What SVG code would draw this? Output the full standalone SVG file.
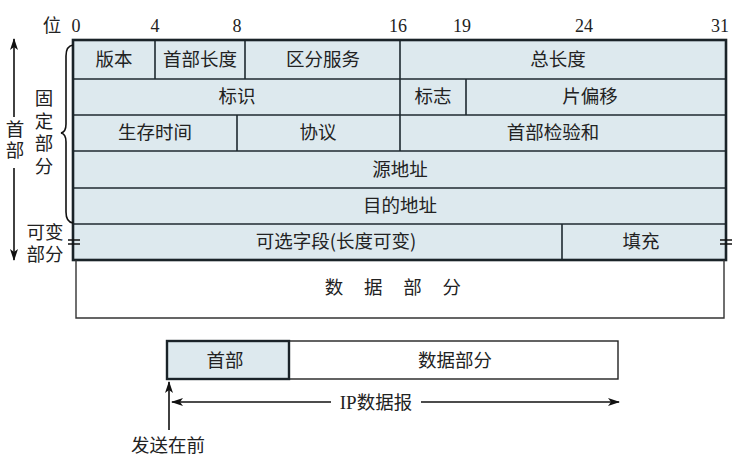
<svg xmlns="http://www.w3.org/2000/svg" width="752" height="459" viewBox="0 0 752 459">
  <defs>
    <style>
      .cjk { font-family: "Noto Sans CJK SC", "Noto Sans", sans-serif; font-size: 18.5px; fill: #222; }
      .num { font-family: "Liberation Serif", "DejaVu Serif", serif; font-size: 18px; fill: #222; }
      .mid { text-anchor: middle; }
      .vert { writing-mode: vertical-rl; text-anchor: middle; }
      .cell { fill: #dde9ee; }
      .grid { stroke: #1f2a30; stroke-width: 1.6; fill: none; }
      .frame { stroke: #1a2328; stroke-width: 2.6; fill: none; }
      .thin { stroke: #333; stroke-width: 1.4; fill: none; }
      .arrow { stroke: #111; stroke-width: 1.6; fill: none; }
    </style>
    <marker id="ah" viewBox="0 0 12 8" refX="11" refY="4" markerWidth="12" markerHeight="8" markerUnits="userSpaceOnUse" orient="auto">
      <path d="M0,0 L12,4 L0,8 L3,4 Z" fill="#111"/>
    </marker>
  </defs>
  <rect width="752" height="459" fill="#ffffff"/>

  <!-- bit position ruler -->
  <g id="ruler">
    <text class="cjk mid" x="52" y="32">位</text>
    <text class="num mid" x="76" y="32">0</text>
    <text class="num mid" x="155" y="32">4</text>
    <text class="num mid" x="237" y="32">8</text>
    <text class="num mid" x="398" y="32">16</text>
    <text class="num mid" x="462" y="32">19</text>
    <text class="num mid" x="584" y="32">24</text>
    <text class="num mid" x="720" y="32">31</text>
  </g>

  <!-- header fields -->
  <g id="header">
    <rect class="cell" x="73" y="40" width="653" height="220"/>
    <!-- row separators -->
    <path class="grid" d="M73,79H726 M73,115H726 M73,151H726 M73,188H726 M73,224H726"/>
    <!-- column separators -->
    <path class="grid" d="M155,40V79 M245,40V79 M400,40V79 M400,79V115 M466,79V115 M237,115V151 M400,115V151 M562,224V260"/>
    <rect class="frame" x="73" y="40" width="653" height="220"/>

    <g id="row1">
      <text class="cjk mid" x="114" y="66">版本</text>
      <text class="cjk mid" x="200" y="66">首部长度</text>
      <text class="cjk mid" x="323" y="66">区分服务</text>
      <text class="cjk mid" x="558" y="66">总长度</text>
    </g>
    <g id="row2">
      <text class="cjk mid" x="237" y="103">标识</text>
      <text class="cjk mid" x="433" y="103">标志</text>
      <text class="cjk mid" x="590" y="103">片偏移</text>
    </g>
    <g id="row3">
      <text class="cjk mid" x="155" y="139">生存时间</text>
      <text class="cjk mid" x="318" y="139">协议</text>
      <text class="cjk mid" x="553" y="139">首部检验和</text>
    </g>
    <g id="row4">
      <text class="cjk mid" x="400" y="176">源地址</text>
    </g>
    <g id="row5">
      <text class="cjk mid" x="400" y="212">目的地址</text>
    </g>
    <g id="row6">
      <text class="cjk mid" x="336" y="248">可选字段(长度可变)</text>
      <text class="cjk mid" x="641" y="248">填充</text>
    </g>
    <!-- break marks on the variable row -->
    <path class="arrow" d="M68,240H80 M68,244H80 M720,240H732 M720,244H732"/>
  </g>

  <!-- data part below header -->
  <g id="data">
    <path class="thin" d="M76,260V318H724V260"/>
    <text class="cjk mid" x="397" y="294" letter-spacing="8.3">数 据 部 分</text>
  </g>

  <!-- left-side annotations -->
  <g id="labels-left">
    <path class="arrow" d="M73,45 Q66,46 66,56 V124 Q66,132 61,133 Q66,134 66,142 V212 Q66,222 73,223"/>
    <text class="cjk vert" x="44" y="134" letter-spacing="4">固定部分</text>
    <text class="cjk mid" x="45" y="239">可变<tspan x="45" dy="22">部分</tspan></text>
    <text class="cjk vert" x="15" y="141" letter-spacing="3">首部</text>
  </g>

  <!-- connectors -->
  <g id="connectors">
    <line class="arrow" x1="14" y1="117" x2="14" y2="39" marker-end="url(#ah)"/>
    <line class="arrow" x1="14" y1="168" x2="14" y2="260" marker-end="url(#ah)"/>
    <line class="arrow" x1="331" y1="402" x2="172" y2="402" marker-end="url(#ah)"/>
    <line class="arrow" x1="421" y1="402" x2="619" y2="402" marker-end="url(#ah)"/>
    <line class="arrow" x1="169" y1="430" x2="169" y2="382" marker-end="url(#ah)"/>
  </g>

  <!-- datagram overview -->
  <g id="datagram">
    <rect x="167" y="341" width="451" height="38" fill="#ffffff" stroke="#222" stroke-width="1.4"/>
    <rect x="167" y="341" width="122" height="38" fill="#dde9ee" stroke="#1a2328" stroke-width="2.4"/>
    <text class="cjk mid" x="225" y="367">首部</text>
    <text class="cjk mid" x="455" y="367">数据部分</text>
    <text class="cjk mid" x="376" y="409"><tspan font-family="Liberation Serif, serif" font-size="19">IP</tspan>数据报</text>
  </g>

  <g id="send-first">
    <text class="cjk mid" x="168" y="452">发送在前</text>
  </g>
</svg>
